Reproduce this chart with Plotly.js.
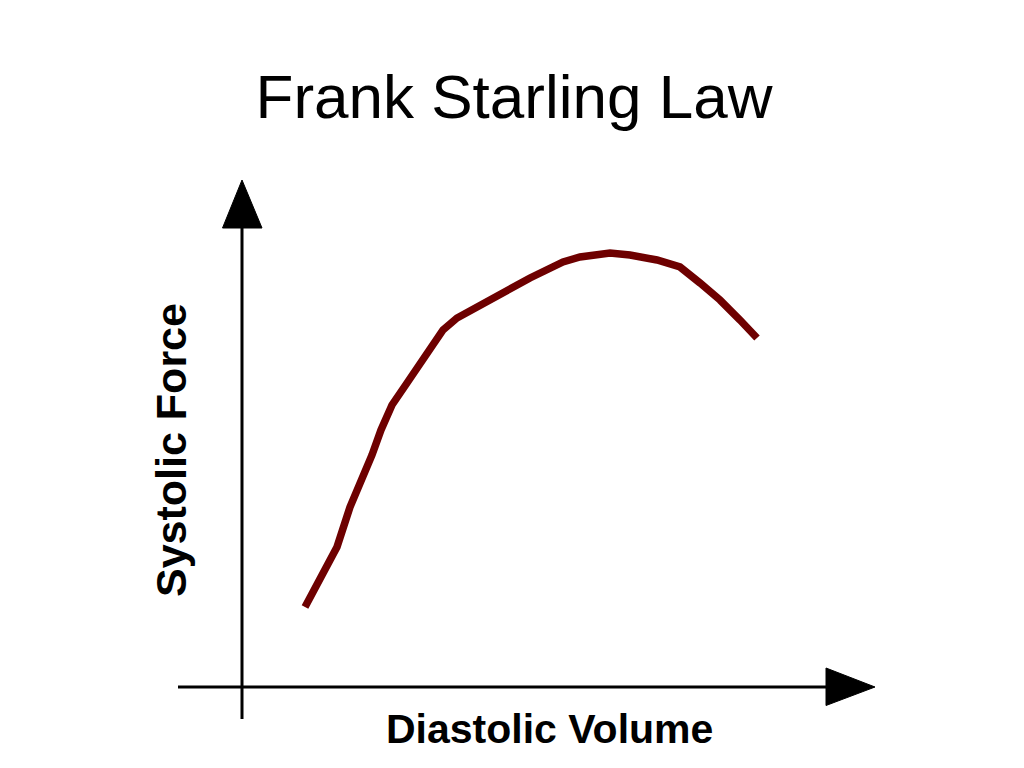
<!DOCTYPE html>
<html>
<head>
<meta charset="utf-8">
<script src="https://cdn.plot.ly/plotly-3.0.1.min.js"></script>
<style>html,body{margin:0;padding:0;background:#fff;}#chart{width:1024px;height:768px;}</style>
</head>
<body>
<div id="chart"></div>
<script>
// Diastolic volume (arbitrary units) and systolic force (arbitrary units)
var diastolicVolume = [6.3, 8.0, 9.5, 10.8, 12.0, 13.0, 13.9, 15.0, 16.5, 17.8, 19.1, 20.1, 21.5, 23.5, 25.8, 28.8, 32.1, 33.8, 36.8, 38.8, 41.5, 43.8, 45.8, 47.8, 49.8, 51.5];
var systolicForce  = [8.0, 11.0, 14.0, 18.0, 20.7, 23.2, 25.7, 28.2, 30.4, 32.4, 34.4, 35.7, 36.9, 38.0, 39.3, 40.9, 42.5, 43.0, 43.4, 43.2, 42.7, 42.0, 40.4, 38.7, 36.7, 34.9];

var titleText = "Frank Starling Law";
var xLabel = "Diastolic Volume";
var yLabel = "Systolic Force";

var trace = {
  x: diastolicVolume,
  y: systolicForce,
  type: "scatter",
  mode: "lines",
  line: {color: "#6e0000", width: 7.5, shape: "linear"},
  hoverinfo: "skip"
};

var layout = {
  width: 1024, height: 768,
  margin: {l: 0, r: 0, t: 0, b: 0, pad: 0},
  paper_bgcolor: "#ffffff", plot_bgcolor: "#ffffff",
  showlegend: false,
  title: {
    text: titleText,
    x: 514/1024, xref: "paper", xanchor: "center",
    y: 1 - 96/768, yref: "paper", yanchor: "middle",
    font: {family: "Liberation Sans, Arial, sans-serif", size: 62, color: "#000000"}
  },
  xaxis: {range: [-24.2, 78.2], visible: false, fixedrange: true},
  yaxis: {range: [-8.1, 68.7], visible: false, fixedrange: true},
  shapes: [
    {type: "line", xref: "x", yref: "y", x0: 0, x1: 0, y0: -3.2, y1: 46.5, line: {color: "#000", width: 3}},
    {type: "line", xref: "x", yref: "y", x0: -6.4, x1: 58.5, y0: 0, y1: 0, line: {color: "#000", width: 3}},
    {type: "path", xref: "x", yref: "y", path: "M -1.95 45.9 L 2.0 45.9 L 0 50.7 Z", fillcolor: "#000", line: {color: "#000", width: 1}},
    {type: "path", xref: "x", yref: "y", path: "M 58.4 1.9 L 58.4 -1.85 L 63.3 0 Z", fillcolor: "#000", line: {color: "#000", width: 1}}
  ],
  annotations: [
    {text: "<b>" + xLabel + "</b>", xref: "paper", yref: "paper", x: 549/1024, y: 1 - 729/768,
     xanchor: "center", yanchor: "middle", showarrow: false,
     font: {family: "Liberation Sans, Arial, sans-serif", size: 41, color: "#000"}},
    {text: "<b>" + yLabel + "</b>", xref: "paper", yref: "paper", x: 171/1024, y: 1 - 450/768,
     xanchor: "center", yanchor: "middle", showarrow: false, textangle: -90,
     font: {family: "Liberation Sans, Arial, sans-serif", size: 43, color: "#000"}}
  ]
};

Plotly.newPlot("chart", [trace], layout, {displayModeBar: false, staticPlot: true});
</script>
</body>
</html>
